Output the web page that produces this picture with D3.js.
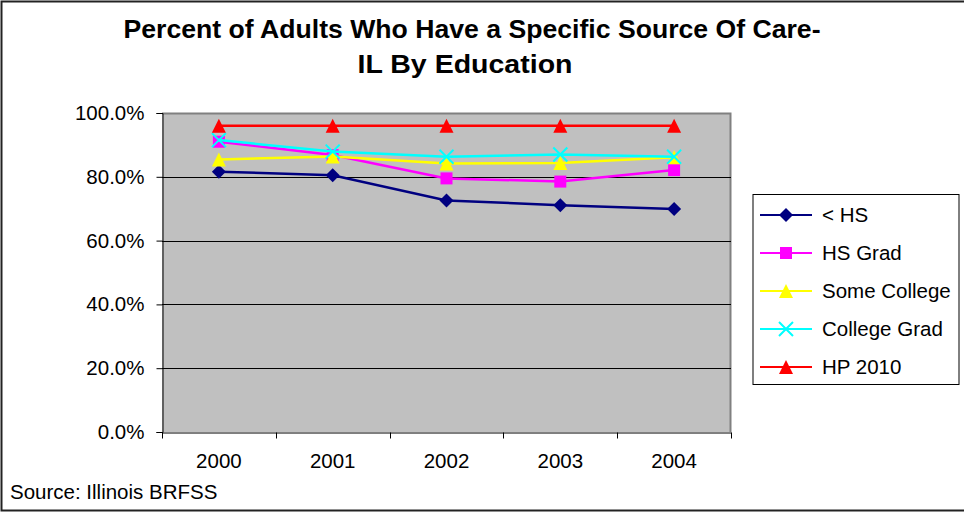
<!DOCTYPE html>
<html><head><meta charset="utf-8">
<script src="https://cdn.jsdelivr.net/npm/d3@7/dist/d3.min.js"></script>
<style>body{margin:0;background:#fff}svg{display:block;font-family:"Liberation Sans",Arial,sans-serif}</style>
</head><body><svg id="c" width="964" height="513"></svg>
<script>
const years = ["2000","2001","2002","2003","2004"];
const seriesNames = ["< HS","HS Grad","Some College","College Grad","HP 2010"];
const lessHS = [81.6, 80.5, 72.6, 71.1, 69.9];
const hsGrad = [91.0, 86.8, 79.5, 78.5, 82.1];
const someCollege = [85.4, 86.4, 84.2, 84.3, 86.1];
const collegeGrad = [91.5, 87.9, 86.3, 87.0, 86.3];
const hp2010 = [96, 96, 96, 96, 96];
const yTicks = [0, 20, 40, 60, 80, 100];
const colors = ["#000080","#ff00ff","#ffff00","#00ffff","#ff0000"];
const markers = ["diamond","square","triangle","x","triangle"];

const series = seriesNames.map((n,i)=>({name:n, values:[lessHS,hsGrad,someCollege,collegeGrad,hp2010][i], color:colors[i], marker:markers[i]}));

const svg = d3.select("#c");
const L=162, R=731, T=113, B=432;
const FS = 20.5;
const x = d3.scaleBand().domain(years).range([L,R]);
const y = d3.scaleLinear().domain([0,100]).range([B,T]);

// outer border
svg.append("rect").attr("x",1.5).attr("y",1.5).attr("width",975).attr("height",509)
  .attr("fill","#fff").attr("stroke","#222").attr("stroke-width",2);

// title
const title = svg.append("text").attr("text-anchor","middle").attr("font-weight","bold").attr("font-size",26).attr("fill","#000");
title.append("tspan").attr("x",472).attr("y",38).attr("textLength",697).attr("lengthAdjust","spacingAndGlyphs").text("Percent of Adults Who Have a Specific Source Of Care-");
title.append("tspan").attr("x",465).attr("y",73).attr("textLength",215).attr("lengthAdjust","spacingAndGlyphs").text("IL By Education");

// plot area
svg.append("rect").attr("x",L).attr("y",T).attr("width",R-L).attr("height",B-T).attr("fill","#c0c0c0");
svg.append("path").attr("d",`M${L},${T+0.5}H${R-0.5}V${B}`).attr("fill","none").attr("stroke","#808080").attr("stroke-width",2);

// gridlines
svg.append("g").selectAll("line").data(yTicks.filter(t=>t>0&&t<100)).join("line")
  .attr("x1",L).attr("x2",R).attr("y1",d=>Math.round(y(d))+0.5).attr("y2",d=>Math.round(y(d))+0.5)
  .attr("stroke","#000").attr("stroke-width",1);

// y axis
const yAxis = d3.axisLeft(y).tickValues(yTicks).tickFormat(d=>d3.format(".1f")(d)+"%").tickSize(6).tickPadding(12);
const gy = svg.append("g").attr("transform",`translate(${L+0.5},0)`).call(yAxis);
gy.select(".domain").attr("stroke","#000");
gy.selectAll(".tick line").attr("stroke","#000");
gy.selectAll("text").attr("font-size",FS).attr("fill","#000").attr("font-family","Liberation Sans, Arial, sans-serif");

// x axis
const xAxis = d3.axisBottom(x).tickSize(0).tickPadding(21);
const gx = svg.append("g").attr("transform",`translate(0,${B+0.5})`).call(xAxis);
gx.select(".domain").attr("stroke","#000");
gx.selectAll("text").attr("font-size",FS).attr("fill","#000").attr("font-family","Liberation Sans, Arial, sans-serif");
gx.selectAll(".bt").data(years.concat(["end"])).join("line")
  .attr("x1",(d,i)=>Math.round(L+i*x.step())+0.5).attr("x2",(d,i)=>Math.round(L+i*x.step())+0.5)
  .attr("y1",0).attr("y2",6).attr("stroke","#000");

// marker drawer
function drawMarker(g, type, cx, cy, color){
  if(type==="diamond"){
    g.append("path").attr("d",`M${cx},${cy-7}L${cx+7},${cy}L${cx},${cy+7}L${cx-7},${cy}Z`).attr("fill",color);
  } else if(type==="square"){
    g.append("rect").attr("x",cx-6).attr("y",cy-6).attr("width",12).attr("height",12).attr("fill",color);
  } else if(type==="triangle"){
    g.append("path").attr("d",`M${cx},${cy-7}L${cx+7},${cy+7}L${cx-7},${cy+7}Z`).attr("fill",color);
  } else if(type==="x"){
    g.append("path").attr("d",`M${cx-7},${cy-7}L${cx+7},${cy+7}M${cx+7},${cy-7}L${cx-7},${cy+7}`).attr("stroke",color).attr("stroke-width",2);
  }
}

const line = d3.line().x((d,i)=>x(years[i])+x.bandwidth()/2).y(d=>y(d));
series.forEach(s=>{
  const g = svg.append("g");
  g.append("path").attr("d",line(s.values)).attr("fill","none").attr("stroke",s.color).attr("stroke-width",2.5);
  s.values.forEach((v,i)=>drawMarker(g,s.marker,x(years[i])+x.bandwidth()/2,y(v),s.color));
});

// legend
const lg = svg.append("g");
lg.append("rect").attr("x",753).attr("y",194.5).attr("width",206).attr("height",190).attr("fill","#fff").attr("stroke","#000").attr("stroke-width",1);
series.forEach((s,i)=>{
  const cy = 215 + i*38;
  const g = lg.append("g");
  g.append("line").attr("x1",760).attr("x2",812).attr("y1",cy).attr("y2",cy).attr("stroke",s.color).attr("stroke-width",2);
  drawMarker(g,s.marker,786,cy,s.color);
  g.append("text").attr("x",822).attr("y",cy+7).attr("font-size",FS).attr("fill","#000").text(s.name);
});

// source
svg.append("text").attr("x",10).attr("y",499).attr("font-size",FS).attr("fill","#000").text("Source: Illinois BRFSS");
</script></body></html>
